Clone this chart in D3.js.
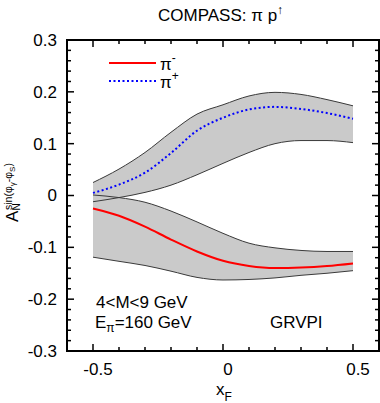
<!DOCTYPE html>
<html>
<head>
<meta charset="utf-8">
<script src="https://cdn.jsdelivr.net/npm/d3@7"></script>
<style>
  body { margin: 0; background: #fff; }
  svg text { font-family: "Liberation Sans", Arial, Helvetica, sans-serif; fill: #000; }
</style>
</head>
<body>
<div id="chart"></div>
<script>
var xF = [-0.5, -0.4, -0.3, -0.2, -0.1, 0, 0.1, 0.2, 0.3, 0.4, 0.5];

// pi+ : central curve and band edges
var piPlus      = [0.005, 0.021, 0.044, 0.082, 0.125, 0.150, 0.166, 0.171, 0.167, 0.159, 0.148];
var piPlusUp    = [0.025, 0.051, 0.083, 0.122, 0.157, 0.175, 0.192, 0.199, 0.195, 0.185, 0.173];
var piPlusLow   = [-0.012, -0.004, 0.006, 0.020, 0.040, 0.062, 0.083, 0.100, 0.106, 0.106, 0.102];

// pi- : central curve and band edges
var piMinus     = [-0.025, -0.039, -0.060, -0.085, -0.108, -0.126, -0.136, -0.140, -0.139, -0.136, -0.131];
var piMinusUp   = [0.001, -0.004, -0.013, -0.030, -0.051, -0.073, -0.092, -0.101, -0.106, -0.108, -0.108];
var piMinusLow  = [-0.119, -0.127, -0.135, -0.146, -0.158, -0.163, -0.162, -0.159, -0.154, -0.150, -0.145];

var xTicks = [-0.5, 0, 0.5];
var xTickLabels = ["-0.5", "0", "0.5"];
var yTicks = [-0.3, -0.2, -0.1, 0, 0.1, 0.2, 0.3];
var yTickLabels = ["-0.3", "-0.2", "-0.1", "0", "0.1", "0.2", "0.3"];

var W = 380, H = 403;
var pLeft = 67, pRight = 379, pTop = 40, pBottom = 351;

var svg = d3.select("#chart").append("svg").attr("width", W).attr("height", H);

var x = d3.scaleLinear().domain([-0.6, 0.6]).range([pLeft, pRight]);
var y = d3.scaleLinear().domain([-0.3, 0.3]).range([pBottom, pTop]);

function rows(up, low, mid) {
    return xF.map(function (v, i) { return { x: v, up: up[i], low: low[i], mid: mid[i] }; });
}

var bands = [rows(piMinusUp, piMinusLow, piMinus), rows(piPlusUp, piPlusLow, piPlus)];

var area = d3.area().curve(d3.curveMonotoneX)
    .x(function (d) { return x(d.x); })
    .y0(function (d) { return y(d.low); })
    .y1(function (d) { return y(d.up); });

var lineUp = d3.line().curve(d3.curveMonotoneX)
    .x(function (d) { return x(d.x); }).y(function (d) { return y(d.up); });
var lineLow = d3.line().curve(d3.curveMonotoneX)
    .x(function (d) { return x(d.x); }).y(function (d) { return y(d.low); });
var lineMid = d3.line().curve(d3.curveMonotoneX)
    .x(function (d) { return x(d.x); }).y(function (d) { return y(d.mid); });

svg.append("g").selectAll("path").data(bands).enter().append("path")
    .attr("d", area).attr("fill", "#cacaca").attr("stroke", "none");

svg.append("g").selectAll("path").data(bands).enter().append("path")
    .attr("d", lineUp).attr("fill", "none").attr("stroke", "#3a3a3a").attr("stroke-width", 1);
svg.append("g").selectAll("path").data(bands).enter().append("path")
    .attr("d", lineLow).attr("fill", "none").attr("stroke", "#3a3a3a").attr("stroke-width", 1);

// central curves
svg.append("path").datum(bands[0]).attr("d", lineMid)
    .attr("fill", "none").attr("stroke", "#ff0000").attr("stroke-width", 2);
svg.append("path").datum(bands[1]).attr("d", lineMid)
    .attr("fill", "none").attr("stroke", "#0000ff").attr("stroke-width", 2)
    .attr("stroke-dasharray", "2,2.5");

// ticks on all four sides, pointing inward
var ticks = svg.append("g").attr("stroke", "#000").attr("stroke-width", 1.5);
d3.range(-5, 6).forEach(function (k) {
    var v = k / 10, len = (k % 5 === 0) ? 7 : 4;
    ticks.append("line").attr("x1", x(v)).attr("x2", x(v)).attr("y1", pBottom).attr("y2", pBottom - len);
    ticks.append("line").attr("x1", x(v)).attr("x2", x(v)).attr("y1", pTop).attr("y2", pTop + len);
});
d3.range(-15, 16).forEach(function (k) {
    var v = k / 50, len = (k % 5 === 0) ? 7 : 4;
    ticks.append("line").attr("y1", y(v)).attr("y2", y(v)).attr("x1", pLeft).attr("x2", pLeft + len);
    ticks.append("line").attr("y1", y(v)).attr("y2", y(v)).attr("x1", pRight).attr("x2", pRight - len);
});

svg.append("rect").attr("x", pLeft).attr("y", pTop)
    .attr("width", pRight - pLeft).attr("height", pBottom - pTop)
    .attr("fill", "none").attr("stroke", "#000").attr("stroke-width", 2);

// tick labels
svg.append("g").selectAll("text").data(xTicks).enter().append("text")
    .attr("x", function (d) { return x(d) + 5; }).attr("y", 375)
    .attr("text-anchor", "middle").attr("font-size", 17)
    .text(function (d, i) { return xTickLabels[i]; });

svg.append("g").selectAll("text").data(yTicks).enter().append("text")
    .attr("x", 57).attr("y", function (d) { return y(d); }).attr("dy", "0.35em")
    .attr("text-anchor", "end").attr("font-size", 17)
    .text(function (d, i) { return yTickLabels[i]; });

// title
var title = svg.append("text").attr("x", 158).attr("y", 21).attr("font-size", 17);
title.append("tspan").text("COMPASS: \u03c0 p");
title.append("tspan").attr("font-size", 12).attr("dy", -7).text("\u2191");

// x label
var xl = svg.append("text").attr("x", 216).attr("y", 395).attr("font-size", 17);
xl.append("tspan").text("x");
xl.append("tspan").attr("font-size", 12).attr("dy", 6).text("F");

// y label
var yl = svg.append("g").attr("transform", "translate(18,222) rotate(-90)");
yl.append("text").attr("x", 0).attr("y", 0).attr("font-size", 17).text("A");
yl.append("text").attr("x", 11.5).attr("y", 2).attr("font-size", 10).text("N");
var sup = yl.append("text").attr("x", 12).attr("y", -6).attr("font-size", 10.5);
sup.append("tspan").text("sin(\u03c6");
sup.append("tspan").attr("font-size", 8).attr("dy", 2.5).text("\u03b3");
sup.append("tspan").attr("dy", -2.5).text("-\u03c6");
sup.append("tspan").attr("font-size", 8).attr("dy", 2.5).text("S");
sup.append("tspan").attr("dy", -2.5).text(")");

// legend
var legend = svg.append("g");
legend.append("line").attr("x1", 109).attr("x2", 156).attr("y1", 63).attr("y2", 63)
    .attr("stroke", "#ff0000").attr("stroke-width", 2);
legend.append("line").attr("x1", 109).attr("x2", 156).attr("y1", 81).attr("y2", 81)
    .attr("stroke", "#0000ff").attr("stroke-width", 2).attr("stroke-dasharray", "2,2.5");
var l1 = legend.append("text").attr("x", 160).attr("y", 70).attr("font-size", 17);
l1.append("tspan").text("\u03c0");
l1.append("tspan").attr("font-size", 12).attr("dy", -8).text("-");
var l2 = legend.append("text").attr("x", 160).attr("y", 88).attr("font-size", 17);
l2.append("tspan").text("\u03c0");
l2.append("tspan").attr("font-size", 12).attr("dy", -8).text("+");

// annotations
svg.append("text").attr("x", 96).attr("y", 308).attr("font-size", 17).text("4<M<9 GeV");
var e = svg.append("text").attr("x", 95).attr("y", 328).attr("font-size", 17);
e.append("tspan").text("E");
e.append("tspan").attr("font-size", 12).attr("dy", 4).text("\u03c0");
e.append("tspan").attr("dy", -4).text("=160 GeV");
svg.append("text").attr("x", 270).attr("y", 328).attr("font-size", 17).text("GRVPI");
</script>
</body>
</html>
